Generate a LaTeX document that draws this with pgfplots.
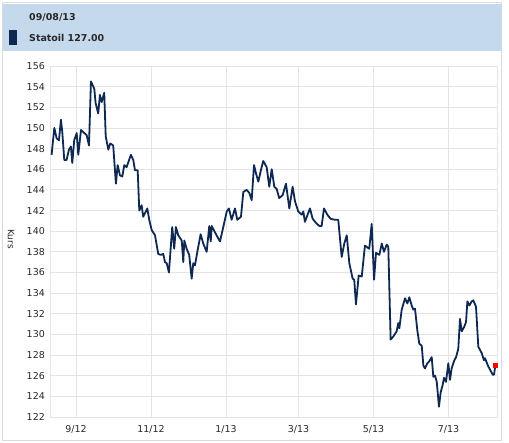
\documentclass[border=0pt]{standalone}
\usepackage{pgfplots}
\pgfplotsset{compat=1.18}
\usepackage{fontspec}
\setmainfont{DejaVu Sans}

\definecolor{headbg}{RGB}{197,217,237}
\definecolor{kursline}{RGB}{14,40,82}
\definecolor{gridc}{RGB}{228,228,228}
\definecolor{framec}{RGB}{215,220,225}
\definecolor{txt}{RGB}{40,40,40}

% x = days from 1 Sep 2012, y = Kurs
\pgfplotstableread{
d y
-19.8 147.4
-17.6 150.0
-15.7 149.0
-13.8 148.8
-12.2 150.8
-11.1 149.6
-9.5 146.9
-7.6 146.9
-5.7 147.9
-4.1 148.2
-3.0 146.6
-1.4 148.8
0.6 149.5
1.9 147.4
4.1 149.8
5.9 149.6
8.7 149.3
10.6 148.3
12.2 154.5
14.9 153.8
16.0 152.4
18.1 151.4
19.5 153.2
20.9 152.5
23.0 153.4
24.2 149.2
26.3 147.9
27.9 148.5
30.3 148.3
32.5 144.6
33.9 146.4
35.8 145.4
37.7 145.3
39.3 146.4
41.2 146.2
44.7 147.4
46.6 146.9
48.0 145.9
50.2 145.9
51.5 142.0
53.4 142.5
54.7 141.4
58.0 142.2
59.6 141.1
61.6 140.1
64.3 139.6
66.9 137.8
68.9 137.7
71.0 137.8
72.4 137.0
73.8 136.9
75.6 136.0
78.3 140.4
79.9 138.3
81.3 140.4
83.2 139.6
86.0 139.1
87.3 137.0
88.1 139.1
90.0 138.3
92.1 137.7
94.1 135.4
95.4 136.9
96.8 136.7
99.0 138.2
101.4 139.7
103.5 138.8
106.3 138.0
108.4 140.5
109.6 139.0
110.4 140.5
113.0 139.9
117.1 139.0
119.8 140.4
122.6 141.9
124.4 142.2
126.6 141.1
129.3 142.2
131.2 141.1
134.2 141.4
136.1 143.8
138.8 144.0
141.0 143.7
142.9 143.0
144.8 146.4
146.4 145.6
148.3 144.8
150.2 145.8
152.3 146.8
155.1 146.2
157.2 144.3
159.2 146.0
161.3 144.3
163.2 144.1
165.3 143.2
168.1 143.5
170.8 144.6
173.5 142.2
176.2 144.3
178.1 142.9
180.8 141.9
183.6 141.6
184.9 141.9
186.2 140.9
188.4 141.6
190.3 142.2
192.5 141.2
195.2 140.8
197.9 140.5
199.8 140.5
201.7 142.2
204.4 141.6
207.1 141.2
210.6 141.1
213.3 141.1
216.1 137.5
218.2 138.8
220.2 139.6
222.3 136.9
225.0 135.4
226.3 135.3
227.7 132.9
229.9 135.7
232.4 135.6
235.0 138.6
238.5 138.3
240.5 140.7
242.4 135.3
244.0 137.9
246.7 137.7
248.7 138.8
250.5 138.0
252.7 138.7
254.0 138.5
255.9 129.5
258.1 129.8
260.8 130.3
262.1 131.1
263.0 130.6
264.9 132.4
267.6 133.5
269.5 133.0
271.1 133.6
273.0 132.8
274.3 132.4
275.7 132.5
277.6 130.4
279.2 129.1
281.2 128.9
282.5 127.0
283.8 126.7
285.7 127.2
287.3 127.4
289.3 127.8
290.6 125.9
292.0 126.0
293.4 125.4
295.2 123.0
296.6 124.4
298.2 125.1
299.3 125.8
300.9 125.4
302.8 127.2
304.2 125.6
305.5 126.7
307.4 127.4
309.1 127.8
310.9 128.6
312.3 131.5
313.7 130.3
315.6 130.7
317.2 131.2
318.3 133.2
319.9 132.8
321.8 133.2
323.1 133.3
325.3 132.7
327.2 128.8
329.9 128.2
331.8 127.5
332.6 127.7
335.3 126.9
338.9 126.1
340.0 126.1
341.0 127.0
}\kurs

\begin{document}
\begin{tikzpicture}[x=1bp,y=1bp]
\useasboundingbox (0,0) rectangle (509,443);
% frame and header band
\draw[framec, line width=1bp] (2,2) rectangle (501,440);
\fill[headbg] (3,392) rectangle (502,439);
\fill[kursline] (9,398) rectangle (17,413);
\node[anchor=west, inner sep=0pt, text=txt, font=\bfseries\fontsize{9.5}{11}\selectfont] at (29,426) {09/08/13};
\node[anchor=west, inner sep=0pt, text=txt, font=\bfseries\fontsize{9.5}{11}\selectfont] at (29,405) {Statoil 127.00};
\node[rotate=-90, inner sep=0pt, text=txt, font=\fontsize{9}{11}\selectfont] at (11,204) {Kurs};

\begin{axis}[
    at={(50bp,26bp)}, anchor=south west,
    scale only axis,
    width=447bp, height=351bp,
    xmin=-21.1, xmax=342.4,
    ymin=122, ymax=156,
    ytick={122,124,...,156},
    xtick={0,61,122,181,242,303},
    xticklabels={9/12,11/12,1/13,3/13,5/13,7/13},
    grid=major,
    grid style={gridc, line width=0.8bp},
    axis line style={gridc, line width=0.8bp},
    major tick length=0pt,
    tick label style={text=txt, font=\fontsize{9.5}{11}\selectfont},
    /pgf/number format/assume math mode=true,
    yticklabel style={anchor=east, inner sep=0pt, xshift=-5bp},
    xticklabel style={anchor=north, inner sep=0pt, yshift=-8bp},
]
\addplot[kursline, line width=1.8bp, line join=round, no marks] table[x=d, y=y] {\kurs};
\addplot[red, only marks, mark=square*, mark size=2.2bp] coordinates {(341.0,127.0)};
\end{axis}
\end{tikzpicture}
\end{document}
